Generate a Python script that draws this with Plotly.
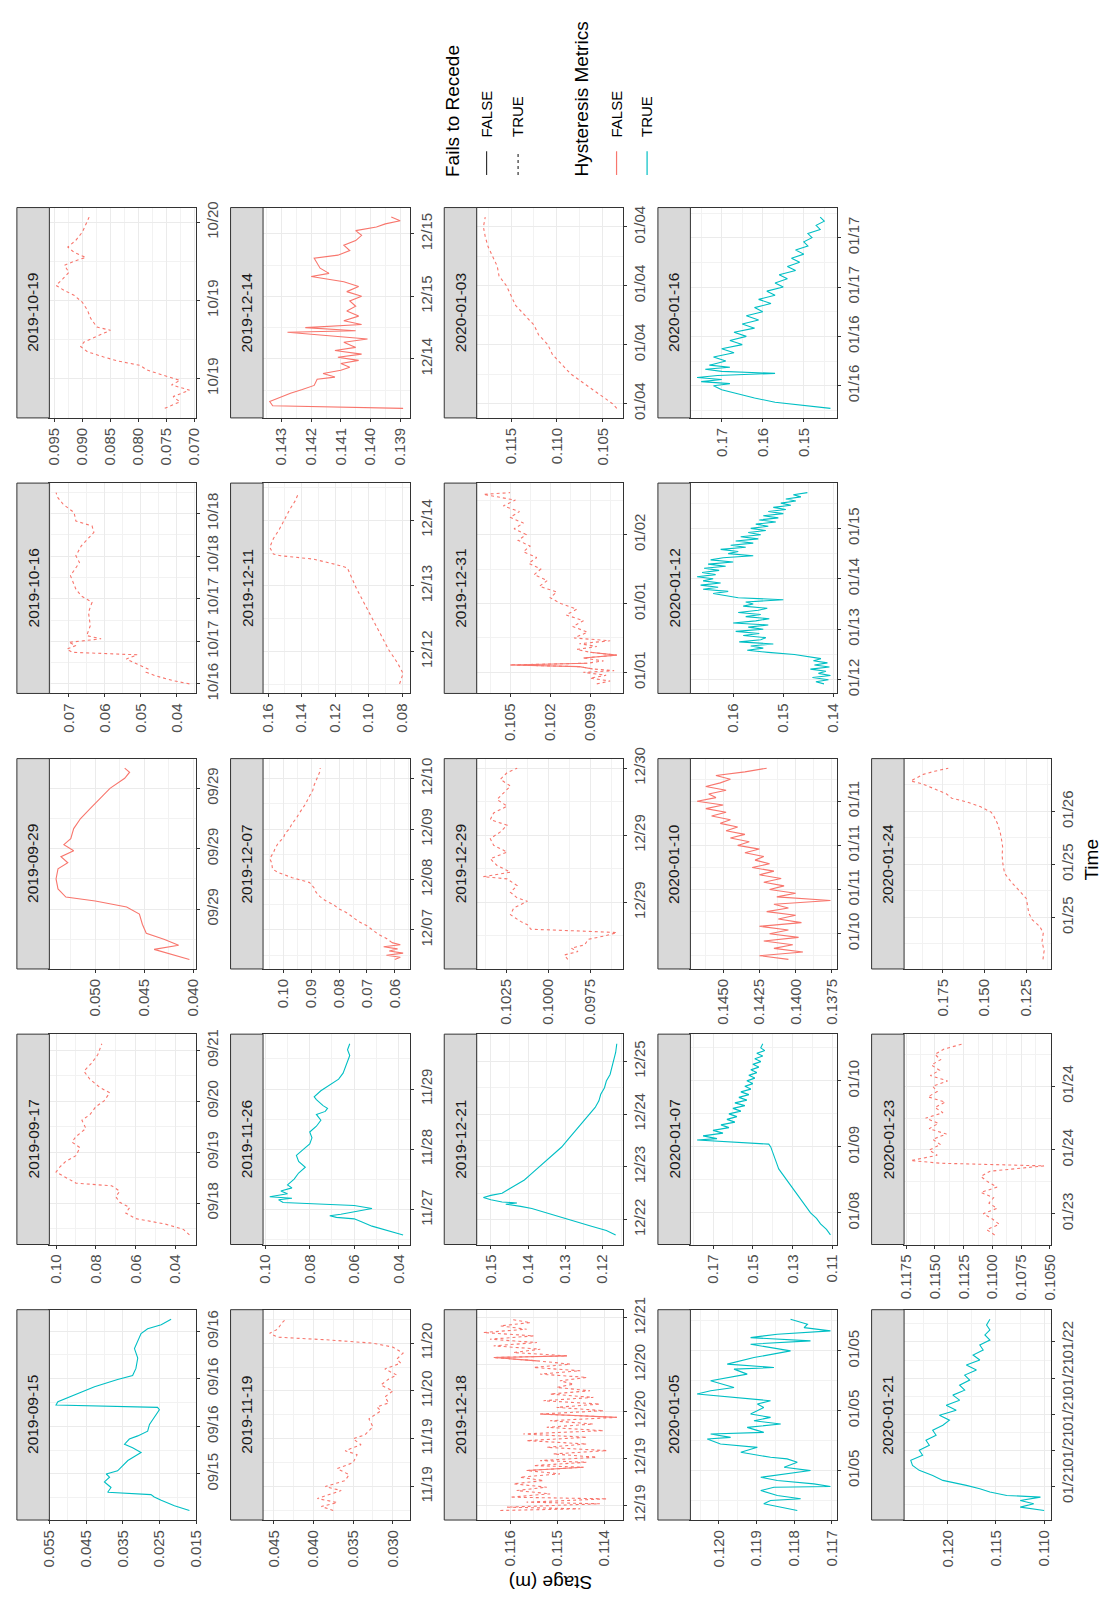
import plotly.graph_objects as go
from datetime import datetime, timedelta

# ---------------- data ----------------
panel_dates = ["2019-09-15", "2019-09-17", "2019-09-29", "2019-10-16", "2019-10-19",
               "2019-11-19", "2019-11-26", "2019-12-07", "2019-12-11", "2019-12-14",
               "2019-12-18", "2019-12-21", "2019-12-29", "2019-12-31", "2020-01-03",
               "2020-01-05", "2020-01-07", "2020-01-10", "2020-01-12", "2020-01-16",
               "2020-01-21", "2020-01-23", "2020-01-24"]
hysteresis_metrics = [True, False, False, False, False,
                      False, True, False, False, False,
                      False, True, False, False, False,
                      True, True, False, True, True,
                      True, False, False]
fails_to_recede = [False, True, False, True, True,
                   True, False, True, True, False,
                   True, False, True, True, True,
                   False, False, False, False, False,
                   False, True, True]
time_tick_hours = [6, 24, 6, 12, 12,
                   12, 24, 24, 24, 12,
                   12, 24, 6, 12, 6,
                   6, 24, 6, 24, 12,
                   6, 12, 12]
stage_tick_step = [0.01, 0.02, 0.005, 0.01, 0.005,
                   0.005, 0.02, 0.01, 0.02, 0.001,
                   0.001, 0.01, 0.0025, 0.003, 0.005,
                   0.001, 0.02, 0.0025, 0.01, 0.01,
                   0.005, 0.0025, 0.025]
stage_tick_start = [0.005, 0, 0, 0, 0,
                    0, 0, 0, 0, 0,
                    0, 0, 0, 0, 0,
                    0, 0.01, 0, 0, 0,
                    0, 0, 0]
stage_decimals = [3, 2, 3, 2, 3,
                  3, 2, 2, 2, 3,
                  3, 2, 4, 3, 3,
                  3, 2, 4, 2, 2,
                  3, 4, 3]

# hours after the facet date (00:00), stage in metres
hours_0915 = [13.4, 14.0, 14.7, 15.1, 15.4, 15.7, 16.3, 17.0, 17.6, 18.0, 18.4, 19.0, 19.7, 20.7, 21.3, 21.75, 22.4,
              22.8, 23.4, 24.25, 25.1, 25.7, 26.1, 26.4, 26.7, 27.1, 28.0, 29.0, 29.9, 30.4, 31.3, 32.6, 33.8, 34.7,
              35.7, 36.3, 36.8, 37.5]
stage_0915 = [0.0168, 0.0209, 0.0245, 0.0264, 0.0273, 0.0391, 0.0382, 0.0400, 0.0386, 0.0395, 0.0364, 0.0350, 0.0336,
              0.0300, 0.0323, 0.0345, 0.0332, 0.0309, 0.0282, 0.0277, 0.0264, 0.0255, 0.0250, 0.0255, 0.0532, 0.0527,
              0.0482, 0.0427, 0.0364, 0.0323, 0.0314, 0.0309, 0.0318, 0.0309, 0.0300, 0.0282, 0.0245, 0.0218]

hours_0917 = [9.0, 11.6, 14.1, 16.7, 19.3, 21.9, 24.4, 27.0, 29.6, 32.1, 33.4, 36.0, 38.6, 41.1, 43.7, 46.3, 50.1, 52.7,
              55.3, 59.1, 63.0, 65.6, 69.4, 72.0, 75.9, 78.4, 82.3, 86.1, 90.0, 93.9, 99.0]
stage_0917 = [0.033, 0.036, 0.045, 0.060, 0.065, 0.063, 0.068, 0.070, 0.068, 0.072, 0.090, 0.095, 0.100, 0.098, 0.095,
              0.090, 0.088, 0.092, 0.090, 0.085, 0.087, 0.083, 0.080, 0.076, 0.073, 0.078, 0.083, 0.086, 0.082, 0.079,
              0.077]

hours_0929 = [1.0, 1.6, 2.0, 2.4, 3.0, 3.6, 4.5, 5.5, 6.2, 6.8, 7.2, 8.0, 9.0, 10.0, 10.6, 11.2, 11.8, 12.4, 13.0, 14.0,
              15.0, 16.0, 17.0, 18.0, 19.0, 19.6, 20.0]
stage_0929 = [0.0404, 0.0425, 0.0440, 0.0415, 0.0430, 0.0448, 0.0452, 0.0455, 0.0468, 0.0500, 0.0530, 0.0538, 0.0540,
              0.0538, 0.0528, 0.0535, 0.0522, 0.0532, 0.0525, 0.0522, 0.0515, 0.0505, 0.0495, 0.0485, 0.0470, 0.0465,
              0.0470]

hours_1016 = [12.0, 12.9, 14.3, 15.3, 16.2, 17.6, 19.0, 20.2, 20.9, 21.8, 22.8, 23.7, 24.7, 25.6, 28.4, 32.2, 35.0,
              36.8, 38.7, 42.5, 46.2, 48.1, 50.9, 54.7, 56.5, 57.9, 60.3, 62.6, 64.5, 65.9]
stage_1016 = [0.0365, 0.0410, 0.0460, 0.0485, 0.0480, 0.0510, 0.0540, 0.0510, 0.0690, 0.0705, 0.0680, 0.0700, 0.0610,
              0.0650, 0.0640, 0.0645, 0.0635, 0.0665, 0.0680, 0.0695, 0.0670, 0.0680, 0.0665, 0.0630, 0.0635, 0.0680,
              0.0685, 0.0715, 0.0730, 0.0735]

hours_1019 = [-4.6, -3.6, -2.8, -1.8, -1.0, -0.3, 0.5, 1.3, 2.0, 2.7, 3.3, 4.1, 4.9, 5.6, 7.4, 7.9, 9.2, 10.5, 11.7,
              12.8, 13.5, 14.3, 15.3, 16.3, 17.4, 18.1, 18.6, 19.4, 20.2, 21.2, 22.5, 23.7, 24.8]
stage_1019 = [0.0753, 0.0726, 0.0738, 0.0709, 0.0741, 0.0726, 0.0756, 0.0785, 0.0797, 0.0838, 0.0862, 0.0891, 0.0903,
              0.0897, 0.0850, 0.0874, 0.0885, 0.0891, 0.0900, 0.0915, 0.0932, 0.0947, 0.0935, 0.0924, 0.0932, 0.0912,
              0.0894, 0.0915, 0.0926, 0.0912, 0.0900, 0.0894, 0.0888]

hours_1119 = [-6, -5, -4, -3, -2, -1, 0, 1.5, 3, 4.5, 6, 8, 9, 10.5, 12, 13, 15, 17, 19, 20, 21, 22.5, 24, 25.5, 27, 28,
              29.5, 31, 32, 33.5, 35, 36, 36.8, 37.5, 38.5, 39.5, 41, 42]
stage_1119 = [0.0375, 0.0390, 0.0370, 0.0395, 0.0380, 0.0365, 0.0385, 0.0360, 0.0355, 0.0370, 0.0350, 0.0345, 0.0360,
              0.0340, 0.0350, 0.0335, 0.0325, 0.0330, 0.0315, 0.0320, 0.0305, 0.0310, 0.0300, 0.0315, 0.0305, 0.0295,
              0.0310, 0.0290, 0.0295, 0.0287, 0.0300, 0.0325, 0.0380, 0.0445, 0.0455, 0.0445, 0.0440, 0.0435]

hours_1126 = [14, 15.8, 17.5, 19.3, 20.4, 21, 21.6, 22.2, 23.4, 24.5, 25.7, 26.3, 26.9, 28, 28.6, 29.2, 30.4, 31.5, 32.7,
              33.9, 36.2, 38.6, 40.9, 43.2, 45.6, 47.9, 50.2, 52.6, 54.9, 57.2, 59.6, 61.9, 63.1, 64.3, 65.4, 67.8,
              68.9, 71.3, 73.6, 75.9, 78.3, 80.6, 82.9, 85.3, 87.6, 90]
stage_1126 = [0.038, 0.045, 0.052, 0.057, 0.060, 0.068, 0.071, 0.066, 0.058, 0.052, 0.060, 0.080, 0.092, 0.094, 0.088,
              0.098, 0.090, 0.093, 0.088, 0.090, 0.087, 0.085, 0.082, 0.085, 0.086, 0.083, 0.080, 0.079, 0.080, 0.077,
              0.075, 0.077, 0.073, 0.072, 0.074, 0.077, 0.078, 0.075, 0.071, 0.067, 0.065, 0.064, 0.063, 0.062, 0.063,
              0.062]

hours_1207 = [-6, -4, -2, 0, 2, 4, 6, 8, 10, 12, 14, 16, 17.9, 20, 22.6, 24.9, 27.3, 29, 32, 34, 36.7, 39, 41.4, 44,
              46.1, 48, 50.8, 53, 55.5, 58, 60.2, 63, 66.5, 69, 71.2, 73, 75.2, 77]
stage_1207 = [0.061, 0.063, 0.066, 0.068, 0.070, 0.073, 0.075, 0.077, 0.080, 0.082, 0.085, 0.087, 0.0883, 0.089, 0.0907,
              0.0969, 0.1019, 0.104, 0.1043, 0.105, 0.1037, 0.103, 0.1019, 0.100, 0.0994, 0.098, 0.0969, 0.0955, 0.0944,
              0.093, 0.092, 0.091, 0.0895, 0.089, 0.0883, 0.0875, 0.087, 0.0868]
solid_hours_1207 = [-14, -13, -12, -11, -10, -9, -8, -7, -6]
solid_stage_1207 = [0.060, 0.058, 0.063, 0.057, 0.062, 0.059, 0.064, 0.058, 0.061]

hours_1211 = [12.1, 15.9, 19.6, 24.6, 29.6, 34.6, 42.1, 47.1, 54.6, 55.9, 57.8, 59.0, 59.6, 62.1, 65.3, 68.4, 72.1, 75.9,
              79.0, 82.1]
stage_1211 = [0.0815, 0.0794, 0.0826, 0.0880, 0.0923, 0.0966, 0.1030, 0.1073, 0.1127, 0.1202, 0.1331, 0.1525, 0.1568,
              0.1590, 0.1568, 0.1535, 0.1503, 0.1471, 0.1439, 0.1417]

hours_1214 = [2.5, 3.0, 3.8, 4.5, 5.4, 6.1, 6.9, 8.1, 8.5, 9.2, 9.8, 10.4, 11.1, 11.7, 12.3, 12.9, 13.6, 14.2, 15.2, 15.8,
              16.4, 17.1, 17.4, 18.0, 18.6, 19.3, 20.2, 21.2, 22.1, 23.1, 24.0, 24.9, 25.9, 26.8, 27.8, 28.4, 29.4,
              31.3, 31.9, 32.8, 33.8, 34.7, 35.7, 36.6, 37.3, 37.9, 38.5, 39.2]
stage_1214 = [0.1389, 0.1433, 0.1434, 0.1431, 0.1427, 0.1423, 0.1419, 0.1418, 0.1412, 0.1416, 0.1410, 0.1407, 0.1410,
              0.1404, 0.1411, 0.1403, 0.1412, 0.1405, 0.1409, 0.1401, 0.1414, 0.1428, 0.1405, 0.1422, 0.1403, 0.1409,
              0.1404, 0.1408, 0.1405, 0.1407, 0.1403, 0.1408, 0.1404, 0.1409, 0.1420, 0.1414, 0.1417, 0.1419, 0.1411,
              0.1407, 0.1409, 0.1405, 0.1403, 0.1405, 0.1398, 0.1395, 0.1390, 0.1393]

hours_1218 = [22.72, 23.15, 23.57, 24.43, 24.85, 25.70, 26.13, 26.98, 27.83, 28.68, 29.53, 30.38, 31.23, 32.09, 32.94,
              33.79, 34.21, 35.06, 35.49, 36.34, 37.19, 38.04, 38.89, 39.74, 40.60, 41.45, 42.30, 43.15, 44.00, 44.85,
              45.70, 46.55, 47.40, 48.26, 49.11, 49.96, 50.81, 51.66, 52.51, 53.36, 54.21, 55.06, 55.91, 56.77, 57.62,
              58.47, 59.32, 60.17, 61.02, 61.87, 62.30, 63.15, 64.00, 64.85, 65.70, 66.55, 67.40, 68.26, 69.11, 69.96,
              70.81, 71.66]
stage_1218 = [0.11621, 0.11451, 0.11607, 0.11409, 0.11565, 0.11394, 0.11600, 0.11515, 0.11586, 0.11522, 0.11593,
              0.11529, 0.11579, 0.11494, 0.11565, 0.11444, 0.11550, 0.11437, 0.11536, 0.11416, 0.11508, 0.11394,
              0.11522, 0.11437, 0.11565, 0.11437, 0.11572, 0.11401, 0.11522, 0.11423, 0.11515, 0.11373, 0.11536,
              0.11401, 0.11501, 0.11409, 0.11529, 0.11423, 0.11515, 0.11430, 0.11501, 0.11465, 0.11494, 0.11437,
              0.11536, 0.11451, 0.11550, 0.11472, 0.11543, 0.11635, 0.11479, 0.11593, 0.11536, 0.11635, 0.11543,
              0.11643, 0.11550, 0.11657, 0.11565, 0.11621, 0.11557, 0.11600]
solid_hours_1218 = [[32.94, 33.79], [46.55, 47.40], [61.02, 61.87, 62.30]]
solid_stage_1218 = [[0.11565, 0.11444], [0.11373, 0.11536], [0.11543, 0.11635, 0.11479]]

hours_1221 = [17, 19, 21, 23, 25, 27, 29, 30, 31, 31.5, 32, 33, 34, 35, 36, 38, 40, 42, 45, 48, 51, 54, 57, 60, 63, 66,
              69, 72, 75, 78, 81, 84, 87, 90, 93, 96, 100, 104]
stage_1221 = [0.1165, 0.1190, 0.1230, 0.1270, 0.1310, 0.1350, 0.1390, 0.1420, 0.1460, 0.1430, 0.1470, 0.1500, 0.1520,
              0.1500, 0.1470, 0.1450, 0.1430, 0.1410, 0.1390, 0.1370, 0.1350, 0.1330, 0.1310, 0.1295, 0.1280, 0.1265,
              0.1250, 0.1235, 0.1220, 0.1210, 0.1205, 0.1195, 0.1190, 0.1180, 0.1175, 0.1170, 0.1165, 0.1162]

hours_1229 = [6.9, 7.3, 7.6, 7.9, 8.2, 8.7, 9.0, 9.3, 9.4, 9.6, 10.0, 10.3, 10.9, 11.5, 12.1, 12.4, 12.9, 13.5, 14.1,
              14.3, 14.7, 15.3, 15.9, 16.5, 17.1, 17.7, 18.3, 18.9, 19.4, 20.0, 20.6, 21.2, 21.8, 22.4, 23.0, 23.6, 24.0]
stage_1229 = [0.09885, 0.09905, 0.09824, 0.09864, 0.09784, 0.09764, 0.09664, 0.09593, 0.09744, 0.10105, 0.10125,
              0.10166, 0.10226, 0.10206, 0.10125, 0.10186, 0.10226, 0.10186, 0.10246, 0.10387, 0.10226, 0.10306,
              0.10346, 0.10246, 0.10326, 0.10346, 0.10286, 0.10246, 0.10346, 0.10326, 0.10246, 0.10306, 0.10266,
              0.10226, 0.10286, 0.10246, 0.10186]

hours_1231 = [22, 22.5, 23, 23.5, 24, 24.3, 24.6, 25, 25.3, 25.6, 26, 26.5, 27, 27.5, 28, 28.5, 29, 29.5, 30, 31, 32, 33,
              34, 35, 36, 37, 38, 39, 40, 41, 42, 43, 44, 45, 46, 47, 48, 49, 50, 51, 52, 53, 54, 55, 55.3]
stage_1231 = [0.0985, 0.0975, 0.0990, 0.0978, 0.0995, 0.0972, 0.0988, 0.0998, 0.1050, 0.0992, 0.0980, 0.0995, 0.0970,
              0.0990, 0.1000, 0.0985, 0.0998, 0.0975, 0.1002, 0.0992, 0.1003, 0.0995, 0.1008, 0.1000, 0.1012, 0.1020,
              0.1015, 0.1028, 0.1022, 0.1032, 0.1027, 0.1036, 0.1030, 0.1040, 0.1035, 0.1044, 0.1038, 0.1047, 0.1040,
              0.1050, 0.1043, 0.1055, 0.1046, 0.1070, 0.1050]
solid_hours_1231 = [[24.6, 25, 25.3, 25.6], [26.5, 27, 27.5]]
solid_stage_1231 = [[0.0988, 0.0998, 0.1050, 0.0992], [0.0995, 0.0970, 0.0990]]

hours_0103 = [23.5, 24, 25, 26, 27, 28, 29, 30, 31, 32, 33, 34, 35, 36, 37, 38, 39, 40, 41, 42, 43]
stage_0103 = [0.1035, 0.1040, 0.1055, 0.1070, 0.1085, 0.1095, 0.1105, 0.1110, 0.1120, 0.1125, 0.1135, 0.1145, 0.1150,
              0.1155, 0.1163, 0.1165, 0.1170, 0.1175, 0.1178, 0.1180, 0.1178]

hours_0105 = [2.0, 2.5, 2.67, 3.0, 3.17, 3.5, 4.0, 4.33, 4.4, 4.67, 5.0, 5.33, 6.0, 6.33, 6.83, 7.17, 7.33, 7.83, 8.33,
              8.67, 9.17, 9.33, 9.67, 9.83, 10.33, 10.67, 11.0, 11.33, 11.67, 12.33, 12.67, 13.0, 13.33, 13.67, 14.0,
              14.33, 15.0, 15.67, 16.17, 16.33, 16.67, 17.33, 18.0, 18.67, 19.0, 19.33, 19.67, 20.0, 20.33, 20.67, 21.17]
stage_0105 = [0.11792, 0.11854, 0.11881, 0.11863, 0.11783, 0.11845, 0.11889, 0.11854, 0.11704, 0.11748, 0.11845,
              0.11889, 0.11757, 0.11827, 0.11792, 0.11819, 0.11863, 0.11942, 0.11898, 0.11996, 0.12031, 0.11969,
              0.12022, 0.11881, 0.11925, 0.11836, 0.11907, 0.11863, 0.11916, 0.11881, 0.11898, 0.11863, 0.11951,
              0.12058, 0.12022, 0.11960, 0.12022, 0.11925, 0.11960, 0.11854, 0.11978, 0.11907, 0.11810, 0.11916,
              0.11757, 0.11916, 0.11845, 0.11704, 0.11774, 0.11765, 0.11810]

hours_0107 = [16, 18, 20, 22, 24, 26, 28, 30, 32, 34, 36, 38, 40, 42, 44, 46, 48, 49, 49.5, 50, 50.5, 51, 52, 53, 54, 55,
              56, 57, 58, 59, 60, 61, 62, 63, 64, 65, 66, 67, 68, 69, 70, 71, 72, 73, 74, 75, 76, 77, 78, 79, 80, 81,
              82, 83, 84, 85.5]
stage_0107 = [0.111, 0.113, 0.116, 0.118, 0.121, 0.123, 0.125, 0.127, 0.129, 0.131, 0.133, 0.135, 0.137, 0.138, 0.139,
              0.140, 0.141, 0.142, 0.155, 0.172, 0.178, 0.168, 0.175, 0.165, 0.170, 0.162, 0.166, 0.159, 0.163, 0.158,
              0.162, 0.156, 0.160, 0.154, 0.159, 0.153, 0.157, 0.152, 0.156, 0.151, 0.154, 0.150, 0.153, 0.149, 0.152,
              0.148, 0.151, 0.147, 0.150, 0.146, 0.149, 0.145, 0.148, 0.144, 0.146, 0.145]

hours_0110 = [14.5, 15, 15.5, 16, 16.5, 17, 17.5, 18, 18.5, 19, 19.5, 20, 20.5, 21, 21.5, 22, 22.5, 23,
              23.5, 24, 24.5, 25, 25.5, 26, 26.5, 27, 27.5, 28, 28.5, 29, 29.5, 30, 30.5, 31, 31.5, 32, 32.5, 33, 33.5,
              34, 34.5, 35, 35.5, 36, 36.5, 37, 37.5, 38, 38.5, 39, 39.5, 40, 40.5]
stage_0110 = [0.1405, 0.1425, 0.1395, 0.1415, 0.1402, 0.1422, 0.1398, 0.1418, 0.1405, 0.1425,
              0.1396, 0.1412, 0.1400, 0.1420, 0.1405, 0.1415, 0.1376, 0.1413, 0.1400, 0.1418, 0.1408, 0.1422, 0.1410,
              0.1425, 0.1415, 0.1430, 0.1418, 0.1428, 0.1422, 0.1435, 0.1425, 0.1440, 0.1432, 0.1445, 0.1435, 0.1448,
              0.1440, 0.1452, 0.1445, 0.1458, 0.1448, 0.1462, 0.1450, 0.1468, 0.1455, 0.1460, 0.1448, 0.1462, 0.1452,
              0.1445, 0.1455, 0.1435, 0.1420]

hours_0112 = [-2, -1, 0, 1, 2, 3, 4, 5, 6, 7, 8, 9, 10, 11, 12, 13, 14, 15, 16, 17, 18, 19, 20, 21, 22, 23, 24, 25, 26,
              27, 28, 29, 30, 31, 32, 33, 34, 35, 36, 37, 38, 39, 40, 41, 42, 43, 44, 45, 46, 47, 48, 49, 50, 51, 52,
              53, 54, 55, 56, 57, 58, 59, 60, 61, 62, 63, 64, 65, 66, 67, 68, 69, 70, 71, 72, 73, 74, 75, 76, 77, 78,
              79, 80, 81, 82, 83, 84, 85, 86, 87, 88, 89]
stage_0112 = [0.1419, 0.1435, 0.1410, 0.1442, 0.1406, 0.1430, 0.1415, 0.1446, 0.1408, 0.1438, 0.1412, 0.1440, 0.1425,
              0.1450, 0.1478, 0.1530, 0.1572, 0.1540, 0.1565, 0.1520, 0.1588, 0.1545, 0.1535, 0.1580, 0.1548, 0.1595,
              0.1540, 0.1570, 0.1530, 0.1600, 0.1555, 0.1528, 0.1575, 0.1545, 0.1590, 0.1550, 0.1532, 0.1580, 0.1560,
              0.1575, 0.1500, 0.1590, 0.1615, 0.1640, 0.1610, 0.1660, 0.1630, 0.1665, 0.1625, 0.1660, 0.1640, 0.1672,
              0.1635, 0.1662, 0.1628, 0.1658, 0.1615, 0.1650, 0.1600, 0.1645, 0.1620, 0.1560, 0.1610, 0.1590, 0.1625,
              0.1575, 0.1605, 0.1560, 0.1595, 0.1550, 0.1585, 0.1545, 0.1570, 0.1535, 0.1565, 0.1530, 0.1555, 0.1515,
              0.1548, 0.1510, 0.1540, 0.1500, 0.1530, 0.1495, 0.1520, 0.1485, 0.1505, 0.1475, 0.1495, 0.1465, 0.1480,
              0.1452]

hours_0116 = [-5.5, -5, -4.5, -4, -3, -2, -1, 0, 0.5, 1, 1.5, 2, 2.5, 3, 3.5, 4, 4.5, 5, 6, 7, 8, 9, 10, 11, 12, 13, 14,
              15, 16, 17, 18, 19, 20, 21, 22, 23, 24, 25, 26, 27, 28, 29, 30, 31, 32, 33, 34, 35, 36, 37, 38, 39, 40, 41]
stage_0116 = [0.1435, 0.148, 0.152, 0.157, 0.162, 0.166, 0.170, 0.172, 0.168, 0.175, 0.170, 0.176, 0.171, 0.157, 0.170,
              0.174, 0.168, 0.173, 0.169, 0.172, 0.167, 0.170, 0.165, 0.168, 0.164, 0.167, 0.162, 0.165, 0.161, 0.164,
              0.160, 0.162, 0.158, 0.161, 0.157, 0.159, 0.155, 0.157, 0.154, 0.156, 0.152, 0.154, 0.151, 0.153, 0.150,
              0.152, 0.149, 0.150, 0.148, 0.149, 0.146, 0.147, 0.145, 0.146]

hours_0121 = [-4.0, -3.44, -2.89, -2.33, -1.78, -1.5, -0.94, -0.39, 0.17, 1.0, 1.83, 2.67, 3.5, 4.33, 5.17, 6.0, 6.83,
              7.67, 8.5, 9.33, 10.17, 11.0, 11.83, 12.67, 13.5, 14.33, 15.17, 16.0, 16.83, 17.67, 18.5, 19.33, 20.17,
              21.0, 21.83, 22.67, 23.5, 24.33, 25.17, 26.0, 26.83, 27.78]
stage_0121 = [0.1100, 0.11248, 0.11108, 0.11248, 0.11038, 0.11388, 0.11563, 0.11668, 0.11808, 0.12052, 0.12157,
              0.12297, 0.12367, 0.12385, 0.12262, 0.12297, 0.12192, 0.12227, 0.12122, 0.12157, 0.12052, 0.11983,
              0.12087, 0.11913, 0.12017, 0.11878, 0.11948, 0.11825, 0.11878, 0.11773, 0.11825, 0.11703, 0.11808,
              0.11668, 0.11738, 0.11633, 0.11668, 0.11563, 0.11615, 0.11563, 0.11598, 0.11563]

hours_0123 = [8, 9, 10, 11, 12, 13, 14, 15, 16, 17, 18, 19, 20, 21, 21.5, 22, 23, 24, 25, 26, 27, 28, 29, 30, 31, 32, 33,
              34, 35, 36, 37, 38, 39, 40, 41, 42, 43, 44]
stage_0123 = [0.1098, 0.1105, 0.1094, 0.1100, 0.1108, 0.1096, 0.1103, 0.1099, 0.1110, 0.1096, 0.1104, 0.1110, 0.1102,
              0.1055, 0.1145, 0.1171, 0.1148, 0.1155, 0.1145, 0.1152, 0.1140, 0.1155, 0.1147, 0.1158, 0.1143, 0.1150,
              0.1141, 0.1156, 0.1148, 0.1152, 0.1139, 0.1154, 0.1146, 0.1153, 0.1145, 0.1150, 0.1142, 0.1125]

hours_0124 = [14.5, 16.5, 18.5, 20.5, 22, 23.5, 25, 27, 28.3, 30, 32, 34, 36, 38, 40, 41.3, 43, 45, 47, 47.8, 49.1, 50.2,
              51, 52, 52.8, 53.5, 54.2, 54.9, 55.6, 56.4, 57.1, 57.8]
stage_0124 = [0.1150, 0.1143, 0.1156, 0.1148, 0.1170, 0.1215, 0.1235, 0.1245, 0.1250, 0.1290, 0.1340, 0.1380, 0.1390,
              0.1395, 0.1392, 0.1397, 0.1405, 0.1420, 0.1445, 0.1460, 0.1526, 0.1610, 0.1697, 0.1730, 0.1783, 0.1820,
              0.1870, 0.1943, 0.1911, 0.1868, 0.1800, 0.1718]

hours_list = [hours_0915, hours_0917, hours_0929, hours_1016, hours_1019,
              hours_1119, hours_1126, hours_1207, hours_1211, hours_1214,
              hours_1218, hours_1221, hours_1229, hours_1231, hours_0103,
              hours_0105, hours_0107, hours_0110, hours_0112, hours_0116,
              hours_0121, hours_0123, hours_0124]
stage_list = [stage_0915, stage_0917, stage_0929, stage_1016, stage_1019,
              stage_1119, stage_1126, stage_1207, stage_1211, stage_1214,
              stage_1218, stage_1221, stage_1229, stage_1231, stage_0103,
              stage_0105, stage_0107, stage_0110, stage_0112, stage_0116,
              stage_0121, stage_0123, stage_0124]
# segments drawn with the other line type (Fails to Recede = FALSE)
solid_segments = {
    7: ([solid_hours_1207], [solid_stage_1207]),
    10: (solid_hours_1218, solid_stage_1218),
    13: (solid_hours_1231, solid_stage_1231),
}

# ---------------- layout ----------------
W, H = 1111, 1610
FALSE_COL, TRUE_COL = "#F8766D", "#00BFC4"
FONT = "Liberation Sans, Arial, sans-serif"
col_left = [8, 225, 442, 659, 876]       # strip left edge per rotated column
row_top = [197, 476, 755, 1034, 1313]    # panel top per rotated row
STRIP_W, PLOT_W, PLOT_H = 33, 149, 213

fig = go.Figure()
shapes, annotations = [], []
layout_axes = {}


def dt(date_str, h):
    return datetime.strptime(date_str, "%Y-%m-%d") + timedelta(hours=h)


for i, date in enumerate(panel_dates):
    k = i + 1
    rcol = i // 5           # original facet row -> rotated column
    rrow = 4 - (i % 5)      # original facet column -> rotated row (from top)
    sl = col_left[rcol]
    top = row_top[rrow]
    px0 = sl + STRIP_W
    px1 = px0 + PLOT_W
    xa = "x" if k == 1 else f"x{k}"
    ya = "y" if k == 1 else f"y{k}"

    hrs, stg = hours_list[i], stage_list[i]
    times = [dt(date, h) for h in hrs]
    color = TRUE_COL if hysteresis_metrics[i] else FALSE_COL
    dash = "dot" if fails_to_recede[i] else "solid"
    fig.add_trace(go.Scatter(x=stg, y=times, mode="lines", xaxis=xa, yaxis=ya,
                             line=dict(color=color, width=1.1, dash=dash), showlegend=False,
                             hoverinfo="skip"))
    all_t, all_s = list(times), list(stg)
    if i in solid_segments:
        for sh, ss in zip(*solid_segments[i]):
            st = [dt(date, h) for h in sh]
            all_t += st
            all_s += ss
            fig.add_trace(go.Scatter(x=ss, y=st, mode="lines", xaxis=xa, yaxis=ya,
                                     line=dict(color=color, width=1.1, dash="solid"), showlegend=False,
                                     hoverinfo="skip"))

    tmin, tmax = min(all_t), max(all_t)
    tspan = tmax - tmin
    smin, smax = min(all_s), max(all_s)
    sspan = smax - smin
    srange = [smax + 0.05 * sspan, smin - 0.05 * sspan]
    trange = [tmin - 0.05 * tspan, tmax + 0.05 * tspan]
    step = stage_tick_step[i]
    tstep_ms = time_tick_hours[i] * 3600 * 1000

    common = dict(showline=True, mirror=True, linecolor="#333333", linewidth=1,
                  ticks="outside", ticklen=3, tickwidth=1, tickcolor="#333333",
                  showgrid=True, gridcolor="#EBEBEB", gridwidth=1, zeroline=False,
                  tickfont=dict(family=FONT, size=15, color="#4D4D4D"), tickangle=-90,
                  fixedrange=True)
    layout_axes["xaxis" if k == 1 else f"xaxis{k}"] = dict(
        domain=[px0 / W, px1 / W], anchor=ya, range=srange, tickmode="linear",
        tick0=stage_tick_start[i], dtick=step, tickformat=f".{stage_decimals[i]}f",
        minor=dict(tick0=stage_tick_start[i], dtick=step / 2, showgrid=True, gridcolor="#F2F2F2",
                   gridwidth=0.6, ticks=""),
        **common)
    layout_axes["yaxis" if k == 1 else f"yaxis{k}"] = dict(
        domain=[1 - (top + PLOT_H) / H, 1 - top / H], anchor=xa, type="date", side="right",
        range=trange, tickmode="linear", tick0=date + " 00:00", dtick=tstep_ms, tickformat="%m/%d",
        minor=dict(tick0=date + " 00:00", dtick=tstep_ms / 2, showgrid=True, gridcolor="#F2F2F2",
                   gridwidth=0.6, ticks=""),
        **common)

    # facet strip (left side after rotation)
    shapes.append(dict(type="rect", xref="paper", yref="paper",
                       x0=sl / W, x1=px0 / W, y0=1 - (top + PLOT_H) / H, y1=1 - top / H,
                       fillcolor="#D9D9D9", line=dict(color="#333333", width=1), layer="above"))
    annotations.append(dict(text=date, xref="paper", yref="paper",
                            x=(sl + STRIP_W / 2) / W, y=1 - (top + PLOT_H / 2) / H,
                            xanchor="center", yanchor="middle", textangle=-90, showarrow=False,
                            font=dict(family=FONT, size=15.5, color="#1A1A1A")))

# axis titles
annotations.append(dict(text="Stage (m)", xref="paper", yref="paper", x=550 / W, y=1 - 1590 / H,
                        xanchor="center", yanchor="middle", textangle=180, showarrow=False,
                        font=dict(family=FONT, size=19, color="#000000")))
annotations.append(dict(text="Time", xref="paper", yref="paper", x=1099 / W, y=1 - 857 / H,
                        xanchor="center", yanchor="middle", textangle=-90, showarrow=False,
                        font=dict(family=FONT, size=19, color="#000000")))

# legend (rotated)
legend_titles = ["Fails to Recede", "Hysteresis Metrics"]
legend_title_x = [451, 581]
legend_labels = ["FALSE", "TRUE", "FALSE", "TRUE"]
legend_label_x = [485, 517, 617, 648]
legend_key_color = ["#333333", "#333333", FALSE_COL, TRUE_COL]
legend_key_dash = ["solid", "dot", "solid", "solid"]
for t, x in zip(legend_titles, legend_title_x):
    annotations.append(dict(text=t, xref="paper", yref="paper", x=x / W, y=1 - 168 / H,
                            xanchor="center", yanchor="bottom", textangle=-90, showarrow=False,
                            font=dict(family=FONT, size=19, color="#000000")))
for lab, x, c, d in zip(legend_labels, legend_label_x, legend_key_color, legend_key_dash):
    annotations.append(dict(text=lab, xref="paper", yref="paper", x=x / W, y=1 - 128 / H,
                            xanchor="center", yanchor="bottom", textangle=-90, showarrow=False,
                            font=dict(family=FONT, size=15, color="#000000")))
    shapes.append(dict(type="line", xref="paper", yref="paper", x0=x / W, x1=x / W,
                       y0=1 - 164 / H, y1=1 - 140 / H, line=dict(color=c, width=1.2, dash=d)))

fig.update_layout(width=W, height=H, margin=dict(l=0, r=0, t=0, b=0),
                  paper_bgcolor="white", plot_bgcolor="white", showlegend=False,
                  shapes=shapes, annotations=annotations, **layout_axes)

fig.write_html("out.html")
